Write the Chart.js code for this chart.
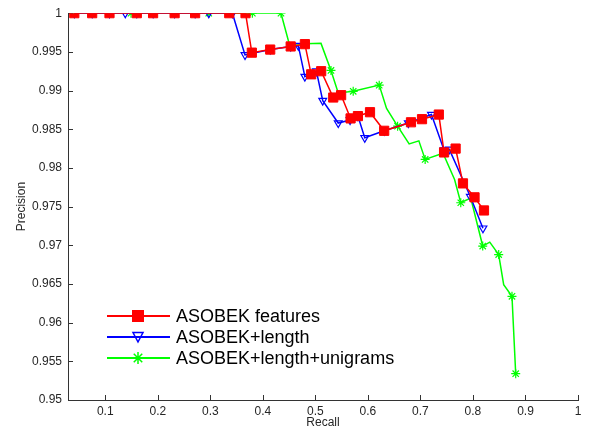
<!DOCTYPE html>
<html>
<head>
<meta charset="utf-8">
<script src="https://cdn.jsdelivr.net/npm/chart.js@4.4.1/dist/chart.umd.min.js"></script>
<style>
  body { margin: 0; background: #fff; }
  #wrap { width: 590px; height: 430px; }
</style>
</head>
<body>
<div id="wrap"><canvas id="grafico" width="590" height="430"></canvas></div>
<script>
// series: recall (x) / precision (y)
const recallFeatures = [0.041, 0.075, 0.108, 0.160, 0.191, 0.232, 0.271, 0.336, 0.367, 0.379, 0.414, 0.453, 0.480, 0.492, 0.511, 0.534, 0.549, 0.567, 0.581, 0.604, 0.631, 0.682, 0.703, 0.735, 0.745, 0.767, 0.781, 0.803, 0.821];
const precisionFeatures = [1, 1, 1, 1, 1, 1, 1, 1, 1, 0.9949, 0.9953, 0.9957, 0.9960, 0.9921, 0.9925, 0.9891, 0.9894, 0.9864, 0.9867, 0.9872, 0.9848, 0.9859, 0.9863, 0.9869, 0.9820, 0.9825, 0.9780, 0.9762, 0.9745];

const recallLength = [0.041, 0.075, 0.108, 0.138, 0.160, 0.191, 0.232, 0.271, 0.297, 0.342, 0.366, 0.414, 0.453, 0.4675, 0.480, 0.502, 0.514, 0.5435, 0.566, 0.581, 0.594, 0.631, 0.677, 0.721, 0.745, 0.755, 0.795, 0.819];
const precisionLength = [1, 1, 1, 1, 1, 1, 1, 1, 1, 1, 0.9946, 0.9953, 0.9957, 0.9958, 0.9918, 0.9925, 0.9887, 0.9858, 0.9862, 0.9867, 0.9839, 0.9848, 0.9858, 0.9869, 0.9823, 0.9824, 0.9763, 0.9722];

const recallUnigrams = [0.041, 0.149, 0.297, 0.380, 0.4345, 0.4504, 0.5107, 0.5297, 0.5435, 0.572, 0.6215, 0.6355, 0.6565, 0.6785, 0.697, 0.709, 0.743, 0.765, 0.7768, 0.7958, 0.8186, 0.832, 0.849, 0.8585, 0.8743, 0.8814];
const precisionUnigrams = [1, 1, 1, 1, 1, 0.9960, 0.9961, 0.9926, 0.9897, 0.9899, 0.9907, 0.9877, 0.9854, 0.9831, 0.9835, 0.9811, 0.9819, 0.9785, 0.9755, 0.9761, 0.9699, 0.9704, 0.9688, 0.9649, 0.9634, 0.9534];
// 1 = the point carries a marker, 0 = plain corner of the line
const markedUnigrams = [1, 1, 1, 1, 1, 0, 0, 1, 0, 1, 1, 0, 1, 0, 0, 1, 0, 0, 1, 0, 1, 0, 1, 0, 1, 1];

const seriesNames = ["ASOBEK features", "ASOBEK+length", "ASOBEK+length+unigrams"];

const xTicks = [0.1, 0.2, 0.3, 0.4, 0.5, 0.6, 0.7, 0.8, 0.9, 1];
const xTickLabels = ["0.1", "0.2", "0.3", "0.4", "0.5", "0.6", "0.7", "0.8", "0.9", "1"];
const yTicks = [0.95, 0.955, 0.96, 0.965, 0.97, 0.975, 0.98, 0.985, 0.99, 0.995, 1];
const yTickLabels = ["0.95", "0.955", "0.96", "0.965", "0.97", "0.975", "0.98", "0.985", "0.99", "0.995", "1"];

const pares = (xs, ys) => xs.map((x, i) => ({ x, y: ys[i] }));

const corEixo = "#333";
const fonte = "'Liberation Sans', Arial, Helvetica, sans-serif";

function desenharMarcador(ctx, tipo, x, y, cor) {
  ctx.save();
  ctx.strokeStyle = cor;
  ctx.fillStyle = cor;
  ctx.lineWidth = 1.5;
  ctx.beginPath();
  if (tipo === "rect") {
    ctx.rect(x - 6, y - 6, 12, 12);
    ctx.fill();
  } else if (tipo === "triangle") {
    ctx.moveTo(x - 5, y - 4.5);
    ctx.lineTo(x + 5, y - 4.5);
    ctx.lineTo(x, y + 5);
    ctx.closePath();
    ctx.stroke();
  } else {
    const r = 6;
    for (let k = 0; k < 4; k++) {
      const a = k * Math.PI / 4;
      ctx.moveTo(x - r * Math.cos(a), y - r * Math.sin(a));
      ctx.lineTo(x + r * Math.cos(a), y + r * Math.sin(a));
    }
    ctx.stroke();
  }
  ctx.restore();
}

// inward tick marks, like the original figure
const ticksInternos = {
  id: "ticksInternos",
  beforeDatasetsDraw(chart) {
    const { ctx, chartArea, scales } = chart;
    ctx.save();
    ctx.strokeStyle = corEixo;
    ctx.lineWidth = 1;
    ctx.beginPath();
    xTicks.forEach(v => {
      const px = Math.round(scales.x.getPixelForValue(v)) + 0.5;
      ctx.moveTo(px, chartArea.bottom);
      ctx.lineTo(px, chartArea.bottom - 5);
    });
    yTicks.forEach(v => {
      const py = Math.round(scales.y.getPixelForValue(v)) + 0.5;
      ctx.moveTo(chartArea.left, py);
      ctx.lineTo(chartArea.left + 5, py);
    });
    ctx.stroke();
    ctx.restore();
  }
};

// legend inside the plot, matlab style
const legendaInterna = {
  id: "legendaInterna",
  afterDraw(chart) {
    const { ctx } = chart;
    const linhas = [316, 337, 358];
    const tipos = ["rect", "triangle", "star"];
    chart.data.datasets.forEach((ds, i) => {
      const y = linhas[i];
      ctx.save();
      ctx.strokeStyle = ds.borderColor;
      ctx.lineWidth = 2;
      ctx.beginPath();
      ctx.moveTo(107, y);
      ctx.lineTo(170, y);
      ctx.stroke();
      ctx.restore();
      desenharMarcador(ctx, tipos[i], 138, y, ds.borderColor);
      ctx.save();
      ctx.fillStyle = "#000";
      ctx.font = "18px " + fonte;
      ctx.textBaseline = "middle";
      ctx.fillText(seriesNames[i], 176, y + 1);
      ctx.restore();
    });
  }
};

const ctx = document.getElementById("grafico").getContext("2d");

new Chart(ctx, {
  type: "line",
  data: {
    datasets: [
      {
        label: seriesNames[0],
        data: pares(recallFeatures, precisionFeatures),
        borderColor: "#ff0000",
        backgroundColor: "#ff0000",
        borderWidth: 1.5,
        pointStyle: "rect",
        pointRadius: 6.5,
        pointBorderWidth: 1,
        pointBackgroundColor: "#ff0000",
        pointBorderColor: "#ff0000"
      },
      {
        label: seriesNames[1],
        data: pares(recallLength, precisionLength),
        borderColor: "#0000ff",
        backgroundColor: "#0000ff",
        borderWidth: 1.5,
        pointStyle: "triangle",
        rotation: 180,
        pointRadius: 4.5,
        pointBorderWidth: 1.2,
        pointBackgroundColor: "rgba(0,0,0,0)",
        pointBorderColor: "#0000ff"
      },
      {
        label: seriesNames[2],
        data: pares(recallUnigrams, precisionUnigrams),
        borderColor: "#00ff00",
        backgroundColor: "#00ff00",
        borderWidth: 1.5,
        pointStyle: "star",
        pointRadius: markedUnigrams.map(m => m ? 4.5 : 0),
        pointBorderWidth: 1.2,
        pointBorderColor: "#00ff00"
      }
    ]
  },
  options: {
    responsive: false,
    animation: false,
    layout: { padding: { top: 13, right: 12, left: 0, bottom: 0 } },
    plugins: {
      legend: { display: false },
      tooltip: { enabled: false }
    },
    elements: { line: { tension: 0 } },
    scales: {
      x: {
        type: "linear",
        min: 0.029,
        max: 1,
        afterBuildTicks: s => { s.ticks = xTicks.map(v => ({ value: v })); },
        afterFit: s => { s.height = 30; },
        ticks: {
          callback: (v, i) => xTickLabels[i],
          color: "#262626",
          font: { family: fonte, size: 12 },
          padding: 4,
          maxRotation: 0
        },
        grid: { drawOnChartArea: false, drawTicks: false },
        border: { color: corEixo, width: 1 },
        title: {
          display: true,
          text: "Recall",
          color: "#262626",
          font: { family: fonte, size: 12 },
          padding: { top: 0, bottom: 0 }
        }
      },
      y: {
        type: "linear",
        min: 0.95,
        max: 1,
        afterBuildTicks: s => { s.ticks = yTicks.map(v => ({ value: v })); },
        afterFit: s => { s.width = 68; },
        ticks: {
          callback: (v, i) => yTickLabels[i],
          color: "#262626",
          font: { family: fonte, size: 12 },
          padding: 6
        },
        grid: { drawOnChartArea: false, drawTicks: false },
        border: { color: corEixo, width: 1 },
        title: {
          display: true,
          text: "Precision",
          color: "#262626",
          font: { family: fonte, size: 12 },
          padding: { top: 14, bottom: 0 }
        }
      }
    }
  },
  plugins: [ticksInternos, legendaInterna]
});
</script>
</body>
</html>
